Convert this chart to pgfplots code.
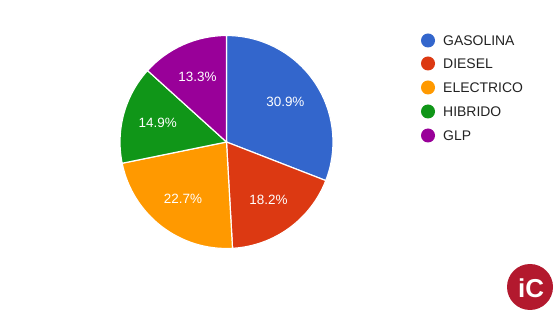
\documentclass[border=0pt]{standalone}
\usepackage{fontspec}
\setmainfont{Liberation Sans}
\usepackage{pgfplots}
\pgfplotsset{compat=1.18}
\definecolor{cGas}{HTML}{3366CC}
\definecolor{cDie}{HTML}{DC3912}
\definecolor{cEle}{HTML}{FF9900}
\definecolor{cHib}{HTML}{109618}
\definecolor{cGlp}{HTML}{990099}
\definecolor{cLogo}{HTML}{B3192E}
\definecolor{cTxt}{HTML}{222222}
% center and radius of the pie in pixel units
\def\cx{226.5}\def\cy{173}\def\R{106.5}
% \slice{cumulative start %}{value %}{colour}
\newcommand\slice[3]{%
  \fill[#3, draw=white, line width=1.2bp, line join=round]
    (axis cs:\cx,\cy) -- ++({90-3.6*#1}:\R bp)
    arc[start angle={90-3.6*#1}, end angle={90-3.6*(#1+#2)}, radius=\R bp] -- cycle;
  \node[text=white, font=\fontsize{13.5}{15}\selectfont]
    at ($(axis cs:\cx,\cy)+({90-3.6*(#1+#2/2)}:{0.67*\R bp})$) {#2\%};
}
\newcommand\legendentry[3]{%
  \fill[#2] (axis cs:428,#1) circle[radius=7bp];
  \node[anchor=west, text=cTxt, font=\fontsize{14}{16}\selectfont, inner sep=0pt]
    at (axis cs:443,#1) {#3};
}
\usetikzlibrary{calc}
\begin{document}
\begin{tikzpicture}
\begin{axis}[
  scale only axis, width=556bp, height=315bp,
  xmin=0, xmax=556, ymin=0, ymax=315,
  hide axis, clip=false,
]
\addplot[draw=none] coordinates {(0,0) (556,315)};
\slice{0}{30.9}{cGas}
\slice{30.9}{18.2}{cDie}
\slice{49.1}{22.7}{cEle}
\slice{71.8}{14.9}{cHib}
\slice{86.7}{13.3}{cGlp}
\legendentry{274.5}{cGas}{GASOLINA}
\legendentry{251.5}{cDie}{DIESEL}
\legendentry{227.5}{cEle}{ELECTRICO}
\legendentry{203.5}{cHib}{HIBRIDO}
\legendentry{179.5}{cGlp}{GLP}
\fill[cLogo] (axis cs:530,28) circle[radius=23bp];
\node[text=white, font=\bfseries\fontsize{26}{26}\selectfont] at (axis cs:531,27) {iC};
\end{axis}
\end{tikzpicture}
\end{document}
